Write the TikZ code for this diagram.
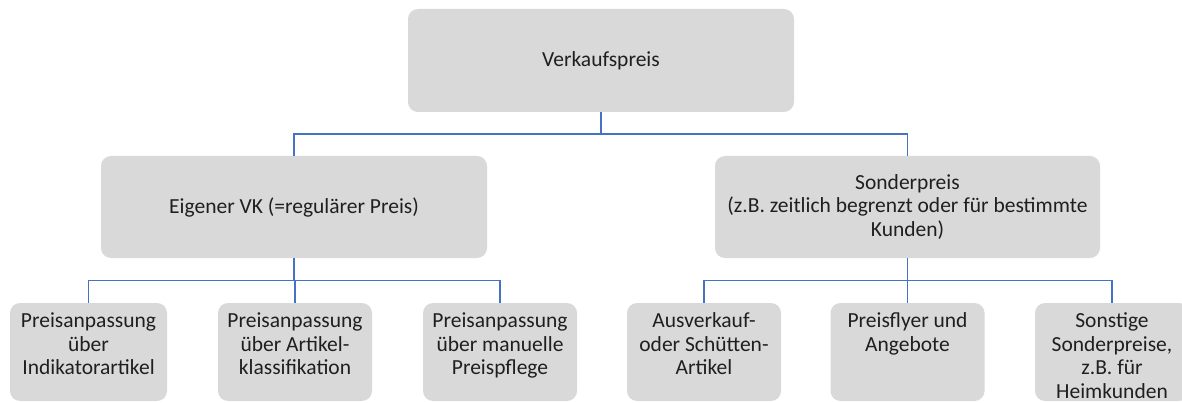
\documentclass[tikz,border=0pt]{standalone}
\usepackage{fontspec}
\setmainfont{Carlito}
\usetikzlibrary{calc}
\definecolor{boxfill}{HTML}{D9D9D9}
\definecolor{linecol}{HTML}{4472C4}
\definecolor{txtcol}{HTML}{1F1F1F}
\tikzset{
  box/.style={draw=none, fill=boxfill, rounded corners=10pt, inner sep=0pt},
  txt/.style={text=txtcol, align=center, inner sep=0pt, font=\fontsize{21.5}{23.5}\selectfont},
  conn/.style={draw=linecol, line width=1.5pt},
}
\begin{document}
\begin{tikzpicture}[x=1pt, y=-1pt]
\path[use as bounding box, clip] (0,0) rectangle (1182,403);
% top level
\node[box, minimum width=386pt, minimum height=103pt] (top) at (601,60.5) {};
\node[txt] (toptxt) at (top.center) {Verkaufspreis};
% second level
\node[box, minimum width=386pt, minimum height=102pt] (eig) at (294,207) {};
\node[txt] (eigtxt) at (eig.center) {Eigener VK (=regulärer Preis)};
\node[box, minimum width=385pt, minimum height=102pt] (son) at (907.5,207) {};
\node[txt] (sontxt) at (son.center) {Sonderpreis\\(z.B. zeitlich begrenzt oder für bestimmte\\Kunden)};
% third level
\node[box, minimum width=157pt, minimum height=98pt] (b1) at (88.5,352) {};
\node[box, minimum width=154pt, minimum height=98pt] (b2) at (295,352) {};
\node[box, minimum width=154pt, minimum height=98pt] (b3) at (500,352) {};
\node[box, minimum width=154pt, minimum height=98pt] (b4) at (704,352) {};
\node[box, minimum width=154pt, minimum height=98pt] (b5) at (907.5,352) {};
\node[box, minimum width=154pt, minimum height=98pt] (b6) at (1112,352) {};
\node[txt, anchor=north] (t1) at ([yshift=-10pt]b1.north) {Preisanpassung\\über\\Indikatorartikel};
\node[txt, anchor=north] (t2) at ([yshift=-10pt]b2.north) {Preisanpassung\\über Artikel-\\klassifikation};
\node[txt, anchor=north] (t3) at ([yshift=-10pt]b3.north) {Preisanpassung\\über manuelle\\Preispflege};
\node[txt, anchor=north] (t4) at ([yshift=-10pt]b4.north) {Ausverkauf-\\oder Schütten-\\Artikel};
\node[txt, anchor=north] (t5) at ([yshift=-10pt]b5.north) {Preisflyer und\\Angebote};
\node[txt, anchor=north] (t6) at ([yshift=-10pt]b6.north) {Sonstige\\Sonderpreise,\\z.B. für\\Heimkunden};
% connectors
\draw[conn] (top.south) -- ($(top.south |- eig.north)!0.5!(top.south)$) -| (eig.north);
\draw[conn] ($(top.south |- eig.north)!0.5!(top.south)$) -| (son.north);
\draw[conn] (eig.south) -- ($(eig.south |- b2.north)!0.5!(eig.south)$) -| (b1.north);
\draw[conn] ($(eig.south |- b2.north)!0.5!(eig.south)$) -| (b2.north);
\draw[conn] ($(eig.south |- b2.north)!0.5!(eig.south)$) -| (b3.north);
\draw[conn] (son.south) -- ($(son.south |- b5.north)!0.5!(son.south)$) -| (b4.north);
\draw[conn] ($(son.south |- b5.north)!0.5!(son.south)$) -| (b5.north);
\draw[conn] ($(son.south |- b5.north)!0.5!(son.south)$) -| (b6.north);
\end{tikzpicture}
\end{document}
